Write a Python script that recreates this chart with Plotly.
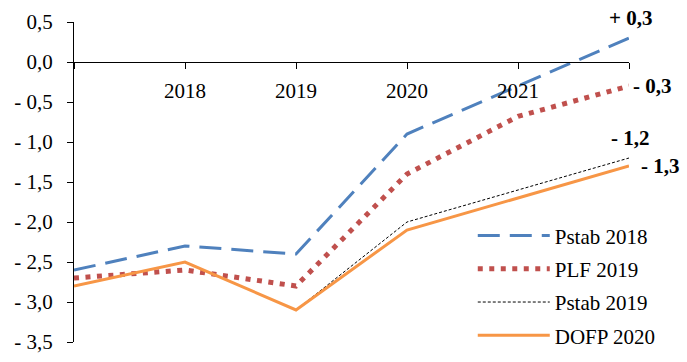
import plotly.graph_objects as go

years = ["2017", "2018", "2019", "2020", "2021", "2022"]
tick_labels = ["", "2018", "2019", "2020", "2021", ""]

pstab2018 = [-2.6, -2.3, -2.4, -0.9, -0.3, 0.3]
plf2019 = [-2.7, -2.6, -2.8, -1.4, -0.68, -0.3]
pstab2019 = [None, None, -3.1, -2.0, -1.6, -1.2]
dofp2020 = [-2.8, -2.5, -3.1, -2.1, -1.7, -1.3]

y_ticks = [0.5, 0.0, -0.5, -1.0, -1.5, -2.0, -2.5, -3.0, -3.5]
y_tick_text = ["0,5", "0,0", "- 0,5", "- 1,0", "- 1,5", "- 2,0", "- 2,5", "- 3,0", "- 3,5"]

end_labels = ["+ 0,3", "- 0,3", "- 1,2", "- 1,3"]

xs = list(range(len(years)))
FONT = "Liberation Serif"

fig = go.Figure()
fig.add_trace(go.Scatter(x=xs, y=pstab2018, mode="lines", name="Pstab 2018",
                         legendgroup="a",
                         line=dict(color="#4F81BD", width=3, dash="22px,10px")))
fig.add_trace(go.Scatter(x=xs, y=plf2019, mode="lines", name="PLF 2019",
                         legendgroup="b",
                         line=dict(color="#C0504D", width=5, dash="5px,6.5px")))
fig.add_trace(go.Scatter(x=xs, y=pstab2019, mode="lines", name="Pstab 2019",
                         legendgroup="c",
                         line=dict(color="#000000", width=1, dash="3px,2px")))
fig.add_trace(go.Scatter(x=xs, y=dofp2020, mode="lines", name="DOFP 2020",
                         legendgroup="d",
                         line=dict(color="#F79646", width=3)))

series_ends = [pstab2018[-1], plf2019[-1], pstab2019[-1], dofp2020[-1]]
shifts = [(1, 20), (23, 0), (1, 20), (31, 0)]
for lab, yv, (dx, dy) in zip(end_labels, series_ends, shifts):
    fig.add_annotation(x=xs[-1], y=yv, text="<b>" + lab + "</b>", showarrow=False,
                       xshift=dx, yshift=dy,
                       font=dict(family=FONT, size=21, color="black"))

fig.update_layout(
    width=687, height=362,
    margin=dict(l=74, r=58, t=22, b=20, autoexpand=False),
    paper_bgcolor="white", plot_bgcolor="white",
    font=dict(family=FONT, size=21, color="black"),
    showlegend=True,
    legend=dict(x=0.7185, y=0.396, xanchor="left", yanchor="top",
                traceorder="grouped", tracegroupgap=3, itemwidth=72,
                bgcolor="rgba(0,0,0,0)", font=dict(family=FONT, size=21)),
    xaxis=dict(range=[0, 5], tickmode="array", tickvals=xs, ticktext=tick_labels,
               showgrid=False, zeroline=False, showline=True, linecolor="black",
               linewidth=1, ticks="outside", ticklen=6, tickcolor="black",
               anchor="free", position=0.875, ticklabelstandoff=4, automargin=False),
    yaxis=dict(range=[-3.5, 0.5], tickmode="array", tickvals=y_ticks,
               ticktext=y_tick_text, showgrid=False, zeroline=False,
               showline=True, linecolor="black", linewidth=1,
               ticks="outside", ticklen=6, tickcolor="black",
               ticklabelstandoff=10, automargin=False),
)

fig.write_html("out.html", config={"displayModeBar": False},
               post_script="document.body.style.margin='0px';document.body.style.padding='0px';")
